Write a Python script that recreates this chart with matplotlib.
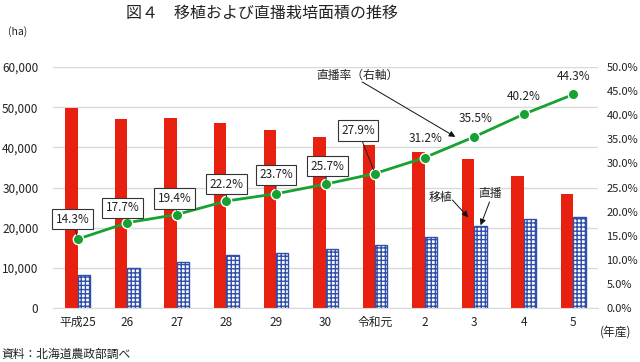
import numpy as np
import matplotlib
matplotlib.use('Agg')
import matplotlib.pyplot as plt
from matplotlib.ticker import FuncFormatter, MultipleLocator

plt.rcParams['font.family'] = ['Noto Sans CJK JP', 'DejaVu Sans']
plt.rcParams['hatch.linewidth'] = 1.0

# data
years = ['平成25', '26', '27', '28', '29', '30', '令和元', '2', '3', '4', '5']
transplant = [49900, 47000, 47200, 46100, 44300, 42500, 40500, 38900, 37000, 32900, 28400]
direct = [8200, 10000, 11400, 13200, 13800, 14600, 15600, 17600, 20400, 22100, 22600]
rate = [14.3, 17.7, 19.4, 22.2, 23.7, 25.7, 27.9, 31.2, 35.5, 40.2, 44.3]
boxed = [True, True, True, True, True, True, True, False, False, False, False]
# label offsets in pixels (dx, dy) from each point
label_off = [(-5, 20), (-5, 15), (-2, 16), (0, 17), (0, 19), (2, 18), (-17, 43),
             (1, 19), (1, 18), (0, 18), (0, 18)]

RED = '#E8200F'
BLUE = '#2F4FA8'
GREEN = '#17A131'
TXT = '#222222'

fig = plt.figure(figsize=(6.4, 3.62), dpi=100)
ax = fig.add_axes([0.0828, 0.149, 0.8516, 0.666])
x = np.arange(len(years))
w = 0.25

ax.bar(x - w / 2, transplant, width=w, color=RED, zorder=2)
ax.bar(x + w / 2, direct, width=w, facecolor='white', edgecolor=BLUE,
       hatch='++++', linewidth=1.0, zorder=2)

ax.set_xlim(-0.5, len(years) - 0.5)
ax.set_ylim(0, 60000)
ax.yaxis.set_major_locator(MultipleLocator(10000))
ax.yaxis.set_major_formatter(FuncFormatter(lambda v, p: f'{v:,.0f}'))
ax.set_xticks(x)
ax.set_xticklabels(years)
ax.grid(axis='y', color='#D9D9D9', linewidth=1, zorder=0)
for s in ['top', 'right', 'left']:
    ax.spines[s].set_visible(False)
ax.spines['bottom'].set_color('#D9D9D9')
ax.tick_params(axis='both', length=0, labelsize=8.5, colors=TXT)
ax.tick_params(axis='y', pad=10.5)
ax.tick_params(axis='x', pad=5.5)

ax2 = ax.twinx()
ax2.set_ylim(0, 50)
ax2.yaxis.set_major_locator(MultipleLocator(5))
ax2.yaxis.set_major_formatter(FuncFormatter(lambda v, p: f'{v:.1f}%'))
for s in ax2.spines.values():
    s.set_visible(False)
ax2.tick_params(axis='y', length=0, labelsize=8, pad=6, colors=TXT)

ax2.plot(x, rate, color=GREEN, linewidth=2, marker='o', markersize=7.5,
         markerfacecolor=GREEN, markeredgecolor='white', markeredgewidth=1, zorder=3)

for i, r in enumerate(rate):
    dx, dy = label_off[i]
    if boxed[i]:
        ax2.annotate(f'{r:.1f}%', xy=(x[i], r), xytext=(dx, dy), textcoords='offset pixels',
                     ha='center', va='center', fontsize=8.5, color=TXT, zorder=4,
                     bbox=dict(boxstyle='square,pad=0.3', facecolor='white',
                               edgecolor='#333333', linewidth=0.8),
                     arrowprops=dict(arrowstyle='-', color=TXT, linewidth=0.7,
                                     shrinkA=0, shrinkB=3))
    else:
        ax2.annotate(f'{r:.1f}%', xy=(x[i], r), xytext=(dx, dy), textcoords='offset pixels',
                     ha='center', va='center', fontsize=8.5, color=TXT, zorder=4)

# callouts
arrow = dict(arrowstyle='-|>', color='#111111', linewidth=0.7, mutation_scale=9,
             shrinkA=0, shrinkB=0)
ax2.text(5.64, 48.3, '直播率（右軸）', ha='center', va='center', fontsize=8.5, color=TXT)
ax2.annotate('', xy=(7.62, 35.5), xytext=(5.74, 46.9), arrowprops=arrow)
ax.text(7.32, 27600, '移植', ha='center', va='center', fontsize=8.5, color=TXT)
ax.annotate('', xy=(7.88, 22600), xytext=(7.56, 26900), arrowprops=arrow)
ax.text(8.33, 28600, '直播', ha='center', va='center', fontsize=8.5, color=TXT)
ax.annotate('', xy=(8.13, 20600), xytext=(8.31, 26400), arrowprops=arrow)

fig.text(0.41, 0.964, '図４　移植および直播栽培面積の推移', ha='center', va='center',
         fontsize=11.5, color=TXT)
fig.text(0.013, 0.912, '(ha)', ha='left', va='center', fontsize=7.5, color=TXT)
fig.text(0.938, 0.083, '(年産)', ha='left', va='center', fontsize=8.5, color=TXT)
fig.text(0.003, 0.022, '資料：北海道農政部調べ', ha='left', va='center', fontsize=8.5,
         color=TXT)

fig.savefig('out.png', dpi=100)
